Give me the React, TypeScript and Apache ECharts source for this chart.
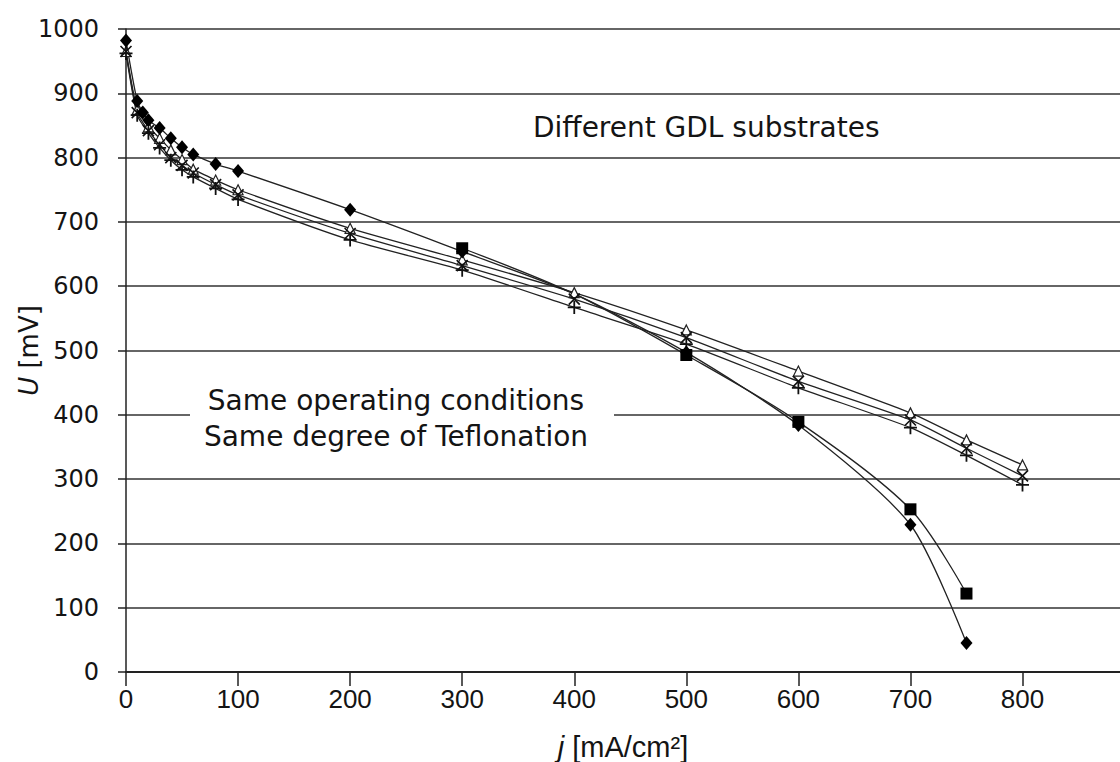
import React, { useEffect, useRef } from "react";
import * as echarts from "echarts";

const xTickValues = [0, 100, 200, 300, 400, 500, 600, 700, 800];
const jDiamond = [0, 10, 15, 20, 30, 40, 50, 60, 80, 100, 200, 300, 400, 500, 600, 700, 750];
const uDiamond = [982, 888, 870, 858, 846, 830, 816, 805, 790, 779, 719, 654, 588, 497, 384, 229, 45];
const jSquare = [300, 400, 500, 600, 700, 750];
const uSquare = [659, 588, 493, 389, 253, 122];
const jCommon = [0, 10, 20, 30, 40, 50, 60, 80, 100, 200, 300, 400, 500, 600, 700, 750, 800];
const uTriangle = [965, 875, 848, 830, 812, 797, 782, 765, 750, 690, 641, 590, 532, 468, 403, 361, 322];
const uCross = [965, 870, 842, 820, 800, 788, 776, 758, 742, 682, 632, 580, 520, 452, 392, 348, 305];
const uPlus = [962, 866, 838, 815, 796, 781, 770, 752, 735, 672, 625, 567, 510, 442, 380, 337, 291];
// points whose filled markers are hidden behind the others in the original
const hiddenFilledJ = [400];

const titleTop = "Different GDL substrates";
const noteLine1 = "Same operating conditions";
const noteLine2 = "Same degree of Teflonation";

const pair = (xs: number[], ys: number[]) => xs.map((x, i) => [x, ys[i]]);
const pairHidden = (xs: number[], ys: number[]) =>
  xs.map((x, i) =>
    hiddenFilledJ.includes(x) ? { value: [x, ys[i]], symbol: "none" } : [x, ys[i]]
  );

const lineStyle = { color: "#222", width: 1.3 };
const textColor = "#141414";

export default function App() {
  const ref = useRef<HTMLDivElement>(null);
  useEffect(() => {
    document.body.style.margin = "0";
    const chart = echarts.init(ref.current!, null, { renderer: "svg" });
    const base = {
      type: "line",
      smooth: 0.2,
      lineStyle,
      z: 3,
    };
    chart.setOption({
      animation: false,
      backgroundColor: "#fff",
      grid: {
        left: 126,
        right: 0,
        top: 29,
        bottom: 90,
        containLabel: false,
        outerBoundsMode: "none",
      },
      xAxis: {
        type: "value",
        min: 0,
        max: 887,
        interval: 100,
        name: "{i|j} [mA/cm²]",
        nameLocation: "middle",
        nameGap: 60,
        nameMoveOverlap: false,
        nameTextStyle: {
          fontFamily: "'Liberation Sans', Arial",
          fontSize: 29,
          color: textColor,
          verticalAlign: "top",
          rich: {
            i: {
              fontFamily: "'Liberation Sans', Arial",
              fontSize: 29,
              fontStyle: "italic",
              color: textColor,
            },
          },
        },
        axisLine: { show: true, onZero: false, lineStyle: { color: "#222", width: 2 } },
        axisTick: {
          show: true,
          length: 14,
          customValues: xTickValues,
          lineStyle: { color: "#222", width: 1.5 },
        },
        axisLabel: {
          customValues: xTickValues,
          margin: 14,
          fontFamily: "'Liberation Sans', Arial",
          fontSize: 26,
          color: textColor,
        },
        splitLine: { show: false },
      },
      yAxis: {
        type: "value",
        min: 0,
        max: 1000,
        interval: 100,
        name: "{i|U} [mV]",
        nameLocation: "middle",
        nameGap: 84,
        nameRotate: 90,
        nameMoveOverlap: false,
        nameTextStyle: {
          fontFamily: "'DejaVu Sans', Verdana",
          fontSize: 26,
          color: textColor,
          rich: {
            i: {
              fontFamily: "'DejaVu Sans', Verdana",
              fontSize: 26,
              fontStyle: "italic",
              color: textColor,
            },
          },
        },
        axisLine: { show: true, lineStyle: { color: "#222", width: 1.5 } },
        axisTick: { show: true, length: 8, lineStyle: { color: "#222", width: 1.5 } },
        axisLabel: {
          margin: 27,
          fontFamily: "'DejaVu Sans', Verdana",
          fontSize: 24,
          color: textColor,
          formatter: (v: number) => String(v),
        },
        splitLine: { show: true, lineStyle: { color: "#333", width: 1.6 } },
      },
      graphic: [
        {
          type: "rect",
          z: 50,
          shape: { x: 190, y: 406, width: 424, height: 14 },
          style: { fill: "#fff" },
        },
        {
          type: "text",
          z: 51,
          x: 533,
          y: 127,
          style: {
            text: titleTop,
            fontFamily: "'DejaVu Sans', Verdana",
            fontSize: 28,
            fill: textColor,
            verticalAlign: "middle",
            align: "left",
          },
        },
        {
          type: "text",
          z: 51,
          x: 396,
          y: 400,
          style: {
            text: noteLine1,
            fontFamily: "'DejaVu Sans', Verdana",
            fontSize: 28,
            fill: textColor,
            verticalAlign: "middle",
            align: "center",
          },
        },
        {
          type: "text",
          z: 51,
          x: 396,
          y: 436,
          style: {
            text: noteLine2,
            fontFamily: "'DejaVu Sans', Verdana",
            fontSize: 28,
            fill: textColor,
            verticalAlign: "middle",
            align: "center",
          },
        },
      ],
      series: [
        {
          ...base,
          name: "square",
          smooth: 0.3,
          data: pairHidden(jSquare, uSquare),
          symbol: "rect",
          symbolSize: 12,
          itemStyle: { color: "#000" },
        },
        {
          ...base,
          name: "triangle",
          data: pair(jCommon, uTriangle),
          symbol: "triangle",
          symbolSize: 10,
          itemStyle: { color: "#fff", borderColor: "#222", borderWidth: 1.2 },
        },
        {
          ...base,
          name: "cross",
          data: pair(jCommon, uCross),
          symbol: "path://M0 0 L10 10 M10 0 L0 10",
          symbolSize: 11,
          itemStyle: { color: "none", borderColor: "#111", borderWidth: 1.6 },
        },
        {
          ...base,
          name: "plus",
          data: pair(jCommon, uPlus),
          symbol: "path://M5 0 L5 10 M0 5 L10 5",
          symbolSize: 13,
          itemStyle: { color: "none", borderColor: "#111", borderWidth: 1.8 },
        },
        {
          ...base,
          name: "diamond",
          smooth: 0.25,
          data: pairHidden(jDiamond, uDiamond),
          symbol: "diamond",
          symbolSize: [12, 14],
          itemStyle: { color: "#000" },
        },
      ],
    });
    return () => chart.dispose();
  }, []);
  return <div ref={ref} style={{ width: 1120, height: 762 }} />;
}
